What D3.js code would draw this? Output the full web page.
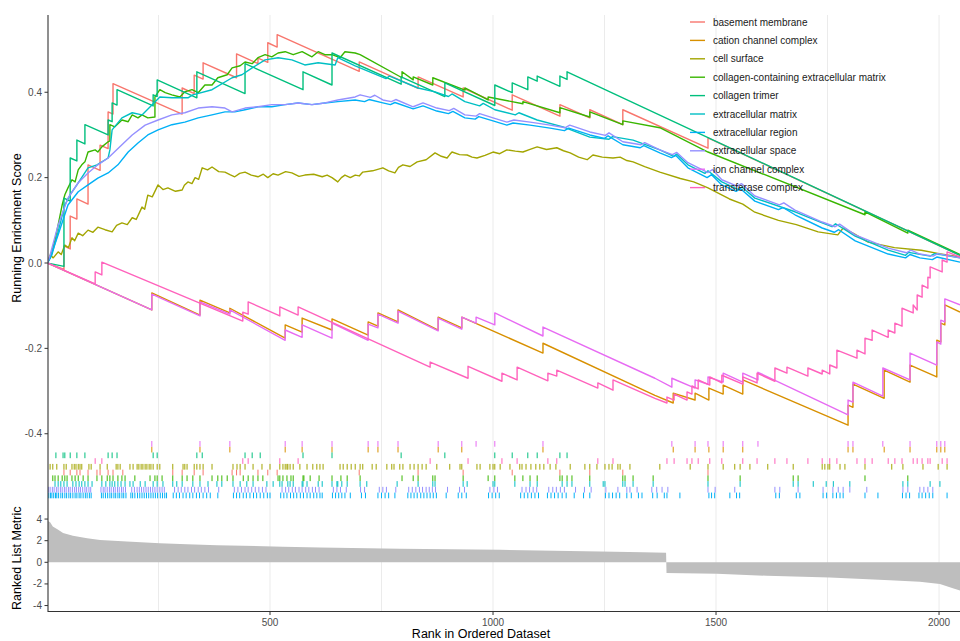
<!DOCTYPE html>
<html>
<head>
<meta charset="utf-8">
<script src="https://cdn.jsdelivr.net/npm/d3@7"></script>
<style>
  body { margin: 0; background: #fff; }
  text { font-family: "Liberation Sans", Arial, sans-serif; }
</style>
</head>
<body>
<svg id="chart" width="960" height="641"></svg>
<script>
// gene sets, in legend (factor) order
var setNames = ["basement membrane", "cation channel complex", "cell surface",
  "collagen-containing extracellular matrix", "collagen trimer", "extracellular matrix",
  "extracellular region", "extracellular space", "ion channel complex", "transferase complex"];
var setColors = ["#F8766D", "#D89000", "#A3A500", "#39B600", "#00BF7D", "#00BFC4",
  "#00B0F6", "#9590FF", "#E76BF3", "#FF62BC"];
// rug rows, top to bottom
var rugOrder = ["ion channel complex", "cation channel complex", "collagen trimer", "transferase complex",
  "cell surface", "basement membrane", "collagen-containing extracellular matrix",
  "extracellular matrix", "extracellular space", "extracellular region"];

// running enrichment score, [rank, ES]
var esBasement = [[1,0],[38,-0.015],[38,0.04],[52,0.033],[52,0.11],[67,0.103],[67,0.15],[92,0.138],[92,0.23],
  [119,0.217],[119,0.276],[137,0.268],[137,0.354],[148,0.349],[148,0.42],[303,0.349],[303,0.41],[330,0.397],
  [330,0.44],[350,0.431],[350,0.469],[425,0.434],[425,0.49],[473,0.467],[473,0.48],[495,0.47],[495,0.516],
  [516,0.506],[516,0.535],[700,0.449],[700,0.471],[832,0.409],[832,0.436],[933,0.389],[933,0.41],[1043,0.358],
  [1043,0.394],[1150,0.344],[1150,0.371],[1217,0.34],[1217,0.359],[1291,0.324],[1291,0.359],[1482,0.269],
  [1482,0.293],[2047,0.018]];
var esCation = [[1,0],[235,-0.11],[235,-0.07],[343,-0.122],[343,-0.087],[410,-0.117],[410,-0.106],[534,-0.176],
  [534,-0.145],[572,-0.162],[572,-0.129],[639,-0.157],[639,-0.131],[720,-0.169],[720,-0.138],[742,-0.148],
  [742,-0.117],[787,-0.138],[787,-0.11],[877,-0.157],[877,-0.127],[930,-0.152],[930,-0.127],[1112,-0.211],
  [1112,-0.188],[1363,-0.31],[1404,-0.328],[1404,-0.305],[1453,-0.321],[1453,-0.305],[1484,-0.321],[1484,-0.293],
  [1516,-0.307],[1516,-0.286],[1560,-0.307],[1560,-0.274],[1796,-0.38],[1796,-0.333],[1807,-0.338],[1807,-0.284],
  [1877,-0.317],[1877,-0.251],[1935,-0.279],[1935,-0.239],[1995,-0.267],[1995,-0.181],[2004,-0.185],[2004,-0.141],
  [2013,-0.145],[2013,-0.098],[2047,-0.115]];
var esCellSurface = [[1,0],[7,0.019],[14,0.012],[25,0.026],[32,0.02],[40,0.042],[48,0.036],[56,0.059],[62,0.052],
  [70,0.07],[80,0.064],[92,0.077],[103,0.072],[114,0.084],[130,0.078],[146,0.073],[156,0.088],[168,0.094],
  [180,0.09],[191,0.106],[200,0.102],[213,0.131],[219,0.126],[226,0.159],[236,0.155],[249,0.183],[260,0.172],
  [271,0.176],[288,0.168],[303,0.171],[308,0.182],[316,0.19],[325,0.186],[332,0.2],[340,0.196],[348,0.223],
  [360,0.218],[370,0.225],[385,0.214],[399,0.213],[410,0.207],[421,0.202],[432,0.21],[444,0.213],[458,0.206],
  [473,0.202],[485,0.208],[495,0.2],[507,0.209],[518,0.206],[535,0.214],[549,0.211],[565,0.203],[578,0.206],
  [598,0.208],[617,0.202],[628,0.206],[639,0.2],[652,0.19],[660,0.2],[668,0.206],[680,0.2],[691,0.206],[700,0.204],
  [708,0.213],[730,0.216],[753,0.223],[766,0.216],[780,0.211],[788,0.224],[798,0.23],[814,0.226],[830,0.237],
  [850,0.242],[870,0.258],[884,0.25],[897,0.246],[903,0.254],[908,0.26],[925,0.254],[942,0.253],[953,0.248],
  [964,0.246],[982,0.252],[1000,0.26],[1015,0.256],[1031,0.265],[1050,0.262],[1067,0.26],[1083,0.266],[1099,0.272],
  [1120,0.266],[1143,0.27],[1158,0.263],[1173,0.258],[1192,0.248],[1211,0.242],[1224,0.253],[1245,0.248],
  [1269,0.246],[1285,0.248],[1300,0.24],[1314,0.237],[1340,0.226],[1374,0.213],[1420,0.198],[1450,0.19],
  [1482,0.176],[1530,0.15],[1560,0.138],[1587,0.119],[1640,0.1],[1680,0.09],[1729,0.073],[1773,0.066],
  [1785,0.082],[1810,0.068],[1841,0.049],[1900,0.036],[1960,0.03],[2000,0.022],[2047,0.014]];
var esCollagenECM = [[1,0],[7,0.012],[11,0.026],[18,0.054],[25,0.089],[34,0.136],[40,0.16],[47,0.176],[56,0.195],
  [63,0.19],[70,0.218],[78,0.23],[85,0.237],[92,0.26],[108,0.265],[114,0.26],[123,0.272],[137,0.284],[141,0.286],
  [141,0.324],[152,0.319],[168,0.335],[182,0.331],[191,0.347],[204,0.34],[213,0.347],[226,0.34],[242,0.342],
  [242,0.389],[253,0.406],[265,0.399],[280,0.394],[298,0.389],[309,0.401],[325,0.406],[339,0.399],[354,0.417],
  [370,0.417],[383,0.434],[404,0.441],[415,0.457],[433,0.462],[444,0.471],[460,0.467],[473,0.481],[489,0.488],
  [504,0.483],[518,0.492],[534,0.495],[552,0.488],[572,0.495],[594,0.483],[608,0.495],[623,0.488],[639,0.488],
  [657,0.481],[668,0.495],[691,0.492],[702,0.488],[796,0.434],[796,0.448],[821,0.429],[821,0.436],[865,0.417],
  [865,0.434],[937,0.405],[937,0.41],[989,0.382],[989,0.389],[1067,0.373],[1067,0.378],[1150,0.352],[1150,0.364],
  [1217,0.342],[1217,0.354],[1291,0.324],[1291,0.333],[1374,0.317],[1482,0.26],[1834,0.113],[1834,0.12],
  [1930,0.07],[1930,0.077],[2047,0.02]];
var esCollagenTrimer = [[1,0],[38,-0.008],[38,0.152],[52,0.145],[52,0.246],[67,0.239],[67,0.288],[85,0.279],
  [85,0.324],[137,0.3],[137,0.335],[146,0.331],[146,0.375],[157,0.37],[157,0.406],[238,0.368],[238,0.394],
  [247,0.39],[247,0.429],[336,0.387],[336,0.448],[444,0.397],[444,0.467],[574,0.406],[574,0.448],[639,0.417],
  [639,0.492],[794,0.419],[794,0.436],[892,0.39],[892,0.422],[1004,0.369],[1004,0.417],[1043,0.399],[1043,0.422],
  [1078,0.406],[1078,0.436],[1099,0.426],[1099,0.438],[1150,0.414],[1150,0.438],[1166,0.43],[1166,0.448],
  [2047,0.018]];
var esECM = [[1,0],[11,0.019],[25,0.073],[40,0.136],[52,0.16],[67,0.183],[92,0.223],[112,0.23],[137,0.246],
  [141,0.265],[146,0.312],[168,0.34],[191,0.352],[213,0.347],[242,0.377],[253,0.389],[280,0.387],[316,0.387],
  [327,0.394],[370,0.406],[415,0.434],[437,0.441],[460,0.457],[489,0.476],[518,0.481],[549,0.476],[578,0.464],
  [608,0.469],[646,0.464],[652,0.481],[691,0.462],[760,0.432],[768,0.438],[832,0.41],[870,0.401],[900,0.39],
  [908,0.396],[937,0.378],[970,0.368],[978,0.374],[1004,0.359],[1050,0.347],[1058,0.352],[1099,0.335],
  [1157,0.319],[1217,0.295],[1260,0.29],[1268,0.296],[1314,0.288],[1374,0.265],[1405,0.25],[1412,0.255],
  [1437,0.23],[1475,0.21],[1482,0.216],[1513,0.19],[1550,0.172],[1558,0.178],[1587,0.152],[1677,0.12],
  [1738,0.094],[1760,0.085],[1768,0.092],[1812,0.063],[1886,0.03],[1925,0.018],[1932,0.025],[1980,0.016],
  [1990,0.022],[2047,0.012]];
var esRegion = [[1,0],[7,0.012],[25,0.066],[47,0.136],[70,0.167],[92,0.183],[114,0.199],[137,0.211],[159,0.23],
  [182,0.26],[204,0.281],[226,0.3],[249,0.312],[280,0.324],[309,0.33],[339,0.34],[370,0.347],[399,0.354],
  [421,0.354],[444,0.359],[473,0.366],[504,0.366],[534,0.371],[563,0.375],[594,0.371],[623,0.375],[652,0.378],
  [691,0.382],[712,0.378],[722,0.383],[753,0.375],[770,0.371],[780,0.376],[821,0.361],[843,0.368],[874,0.356],
  [900,0.35],[910,0.355],[937,0.34],[960,0.337],[968,0.343],[1000,0.333],[1031,0.323],[1045,0.328],[1083,0.323],
  [1128,0.316],[1160,0.31],[1170,0.316],[1217,0.3],[1250,0.292],[1258,0.298],[1291,0.277],[1330,0.27],
  [1338,0.275],[1374,0.258],[1400,0.247],[1410,0.252],[1437,0.223],[1480,0.2],[1490,0.207],[1513,0.183],
  [1545,0.168],[1555,0.174],[1587,0.145],[1640,0.125],[1650,0.13],[1677,0.113],[1738,0.082],[1765,0.072],
  [1775,0.078],[1812,0.052],[1886,0.021],[1925,0.012],[1935,0.02],[1957,0.012],[1985,0.008],[1995,0.014],
  [2047,0.002]];
var esSpace = [[1,0],[7,0.019],[25,0.089],[47,0.152],[70,0.188],[92,0.211],[114,0.23],[137,0.246],[168,0.277],
  [191,0.3],[220,0.323],[249,0.335],[280,0.347],[309,0.352],[339,0.363],[370,0.366],[399,0.363],[415,0.354],
  [444,0.363],[473,0.366],[504,0.371],[534,0.371],[563,0.375],[594,0.371],[623,0.375],[652,0.382],[691,0.389],
  [702,0.394],[725,0.388],[735,0.393],[753,0.382],[772,0.378],[782,0.383],[821,0.366],[843,0.375],[874,0.363],
  [902,0.357],[912,0.362],[937,0.347],[962,0.344],[970,0.35],[1000,0.34],[1031,0.33],[1047,0.335],[1083,0.33],
  [1128,0.323],[1162,0.317],[1172,0.323],[1217,0.307],[1252,0.299],[1260,0.305],[1291,0.284],[1332,0.277],
  [1340,0.282],[1374,0.265],[1402,0.254],[1412,0.259],[1437,0.235],[1482,0.212],[1492,0.219],[1513,0.195],
  [1547,0.18],[1557,0.186],[1587,0.157],[1642,0.136],[1652,0.141],[1677,0.124],[1738,0.096],[1767,0.085],
  [1777,0.091],[1812,0.066],[1886,0.035],[1927,0.024],[1937,0.03],[1957,0.021],[1987,0.016],[1997,0.022],
  [2047,0.012]];
var esIon = [[1,0],[235,-0.11],[235,-0.073],[343,-0.124],[343,-0.091],[410,-0.12],[410,-0.11],[534,-0.181],
  [534,-0.157],[572,-0.174],[572,-0.145],[639,-0.176],[639,-0.141],[720,-0.181],[720,-0.143],[742,-0.152],
  [742,-0.12],[787,-0.141],[787,-0.113],[877,-0.159],[877,-0.129],[930,-0.155],[930,-0.127],[962,-0.141],
  [962,-0.127],[1004,-0.145],[1004,-0.117],[1112,-0.171],[1112,-0.15],[1363,-0.27],[1401,-0.291],[1401,-0.27],
  [1453,-0.293],[1453,-0.274],[1482,-0.284],[1482,-0.267],[1516,-0.279],[1516,-0.258],[1560,-0.279],[1560,-0.258],
  [1594,-0.274],[1594,-0.256],[1796,-0.356],[1796,-0.321],[1807,-0.326],[1807,-0.279],[1874,-0.312],[1874,-0.246],
  [1935,-0.274],[1935,-0.211],[1995,-0.239],[1995,-0.185],[2004,-0.19],[2004,-0.134],[2013,-0.138],[2013,-0.084],
  [2047,-0.098]];
var esTransferase = [[1,0],[108,-0.049],[108,-0.021],[123,-0.028],[123,0.002],[439,-0.136],[439,-0.115],
  [451,-0.12],[451,-0.091],[522,-0.124],[522,-0.103],[563,-0.122],[563,-0.103],[859,-0.244],[859,-0.232],
  [944,-0.27],[944,-0.242],[1020,-0.277],[1020,-0.258],[1054,-0.274],[1054,-0.244],[1123,-0.276],[1123,-0.258],
  [1143,-0.265],[1143,-0.251],[1235,-0.293],[1235,-0.281],[1269,-0.298],[1269,-0.274],[1363,-0.317],[1390,-0.328],
  [1390,-0.314],[1406,-0.321],[1406,-0.307],[1435,-0.321],[1435,-0.302],[1446,-0.307],[1446,-0.288],[1460,-0.295],
  [1460,-0.274],[1486,-0.286],[1486,-0.267],[1513,-0.281],[1513,-0.263],[1560,-0.284],[1560,-0.267],[1592,-0.281],
  [1592,-0.258],[1632,-0.277],[1632,-0.246],[1659,-0.258],[1659,-0.244],[1706,-0.265],[1706,-0.246],[1738,-0.26],
  [1738,-0.251],[1755,-0.26],[1755,-0.239],[1771,-0.246],[1771,-0.204],[1816,-0.223],[1816,-0.204],[1834,-0.213],
  [1834,-0.176],[1850,-0.181],[1850,-0.157],[1886,-0.174],[1886,-0.157],[1901,-0.164],[1901,-0.141],[1917,-0.148],
  [1917,-0.106],[1942,-0.117],[1942,-0.098],[1951,-0.11],[1951,-0.075],[1962,-0.08],[1962,-0.052],[1975,-0.059],
  [1975,-0.033],[1980,-0.035],[1980,-0.009],[2007,-0.021],[2007,0.007],[2018,0.002],[2018,0.026],[2047,0.014]];

// hit positions (ranks) for the rug
var hitsBasement = [38,52,67,74,92,112,119,137,148,170,282,303,330,350,415,425,433,473,495,516,700,832,933,1043,1150,1217,1291,1482];
var hitsCation = [235,343,410,534,572,639,720,742,787,877,930,1112,1404,1453,1484,1516,1560,1796,1807,1877,1935,1995,2004,2013];
var hitsCellSurface = [7,13,22,38,43,56,61,65,70,74,78,94,99,119,135,155,159,164,186,193,202,206,211,215,220,224,229,
  233,238,247,253,282,305,309,314,330,336,343,350,370,417,426,433,444,462,482,500,522,529,534,538,540,545,552,567,
  583,596,605,612,619,657,664,673,682,691,702,708,729,738,762,773,778,791,798,814,823,832,841,850,874,903,926,930,
  964,971,993,1000,1004,1016,1038,1060,1065,1074,1085,1096,1105,1114,1128,1141,1173,1206,1217,1233,1251,1260,1267,
  1280,1285,1307,1374,1442,1482,1516,1542,1554,1576,1616,1673,1738,1744,1751,1755,1778,1789,1834,1894,1919,1964,
  1998,2018];
var hitsCollagenECM = [13,18,25,34,40,45,56,63,70,81,92,112,123,135,141,148,159,168,175,197,231,242,247,258,282,303,
  314,327,343,370,383,392,404,417,440,451,462,473,484,518,522,529,538,547,552,574,576,590,610,639,659,673,702,796,
  821,832,865,870,933,989,1004,1049,1067,1083,1099,1150,1155,1166,1177,1217,1291,1296,1314,1359,1482,1554,1673,
  1684,1834,1930];
var hitsCollagenTrimer = [20,36,40,52,67,85,137,146,157,238,247,336,348,444,460,478,574,639,794,892,1004,1043,1078,1099,1150,1166];
var hitsECM = [18,25,31,38,45,58,65,72,78,85,92,101,123,132,141,146,152,159,166,175,186,193,209,220,238,247,260,282,
  291,303,327,343,361,381,392,417,433,448,462,493,507,522,527,540,545,552,572,574,583,608,617,639,650,652,661,673,
  702,717,785,832,865,870,933,942,1000,1004,1049,1083,1099,1155,1166,1177,1217,1247,1251,1291,1296,1314,1359,1482,
  1554,1673,1684,1718,1747,1763,1800,1919,1930,1980,2002];
var hitsRegion = [4,8,11,15,19,22,26,31,35,40,44,49,53,58,63,67,72,76,81,86,90,95,99,122,126,131,136,141,145,150,
  154,159,163,168,172,177,188,192,197,203,208,213,218,223,228,233,238,243,248,254,259,264,268,283,290,297,305,312,
  320,327,335,342,350,358,366,383,418,425,432,440,447,455,463,470,478,486,494,500,524,531,538,546,553,560,568,575,
  583,590,598,605,612,617,640,647,654,661,668,680,705,714,742,750,758,766,780,809,816,823,830,838,845,852,859,866,
  873,895,922,930,940,990,998,1006,1014,1062,1070,1078,1086,1094,1102,1122,1130,1138,1146,1155,1164,1182,1203,1217,
  1252,1260,1268,1276,1284,1300,1310,1326,1334,1358,1368,1384,1390,1419,1484,1490,1497,1531,1546,1553,1634,1642,
  1680,1688,1740,1748,1762,1770,1778,1785,1834,1863,1918,1926,1934,1955,1962,1970,1978,1986,2018];
var hitsSpace = [3,7,12,16,21,25,30,34,39,43,48,52,57,62,66,71,75,80,85,89,94,98,121,126,130,135,140,144,149,153,
  158,162,167,171,176,190,196,202,207,212,217,222,227,232,237,242,247,253,258,263,286,294,301,309,316,324,331,339,
  346,354,362,385,420,428,436,444,451,459,467,475,483,491,527,535,542,550,557,565,572,580,587,595,602,610,642,650,
  658,671,703,712,745,753,761,782,811,819,827,835,842,850,857,864,871,898,925,936,993,1002,1010,1065,1074,1082,1090,
  1098,1125,1134,1142,1151,1160,1185,1205,1220,1253,1280,1300,1307,1323,1356,1367,1379,1392,1482,1498,1542,1632,
  1643,1684,1740,1762,1774,1785,1800,1838,1919,1930,1957,1966,1975,1986];
var hitsIon = [235,343,410,534,572,639,720,742,787,877,930,962,1004,1112,1401,1453,1482,1516,1560,1594,1796,1807,1874,1935,1995,2004,2013];
var hitsTransferase = [108,123,439,451,522,563,859,944,1020,1054,1123,1143,1235,1269,1390,1406,1435,1446,1460,1486,
  1513,1560,1592,1632,1659,1706,1738,1755,1771,1816,1834,1850,1886,1901,1917,1942,1951,1962,1975,1980,2007,2018];

// ranked list metric, [rank] and [value] read along the grey profile
var metricRank = [1,7,13,25,36,58,90,119,179,253,314,381,529,612,791,1016,1240,1336,1388,1389,1502,1614,1755,1890,1957,2002,2031,2047];
var metricValue = [3.85,3.7,3.3,3.0,2.72,2.45,2.23,2.07,1.92,1.77,1.67,1.58,1.45,1.36,1.25,1.15,1.0,0.92,0.88,-1.0,-1.05,-1.25,-1.4,-1.65,-1.8,-2.0,-2.4,-2.6];

// axis ticks
var rankTicks = [500, 1000, 1500, 2000];
var gridRanks = [250, 500, 750, 1000, 1250, 1500, 1750, 2000];
var esTicks = [-0.4, -0.2, 0, 0.2, 0.4];
var metricTicks = [-4, -2, 0, 2, 4];

var esList = [esBasement, esCation, esCellSurface, esCollagenECM, esCollagenTrimer, esECM, esRegion, esSpace, esIon, esTransferase];
var hitList = [hitsBasement, hitsCation, hitsCellSurface, hitsCollagenECM, hitsCollagenTrimer, hitsECM, hitsRegion, hitsSpace, hitsIon, hitsTransferase];

var sets = setNames.map(function(n, i) {
	return {name: n, color: setColors[i], es: esList[i], hits: hitList[i]};
});

var svg = d3.select("#chart");

var left = 48, right = 960;
var topY = 15, esBottom = 441, rugBottom = 498.3, metTop = 505, metBottom = 611.5;

var x = d3.scaleLinear().domain([0, 2047]).range([47, 960]);
var yES = d3.scaleLinear().domain([-0.417, 0.581]).range([esBottom, topY]);
var yMet = d3.scaleLinear().domain([-4.55, 5.3]).range([metBottom, metTop]);
var yRug = d3.scaleBand().domain(rugOrder).range([esBottom, rugBottom]).padding(0);

svg.append("defs").append("clipPath").attr("id", "plotclip")
	.append("rect").attr("x", left).attr("y", 0).attr("width", right - left).attr("height", 641);

// vertical grid
svg.append("g").selectAll("line")
	.data(gridRanks)
	.join("line")
	.attr("x1", function(d) { return x(d); })
	.attr("x2", function(d) { return x(d); })
	.attr("y1", topY)
	.attr("y2", metBottom)
	.attr("stroke", "#EBEBEB")
	.attr("stroke-width", 1);

var plotG = svg.append("g").attr("clip-path", "url(#plotclip)");

// ranked list metric
var metric = metricRank.map(function(r, i) { return [r, metricValue[i]]; });
plotG.append("path")
	.datum(metric)
	.attr("fill", "#BEBEBE")
	.attr("d", d3.area()
		.x(function(d) { return x(d[0]); })
		.y0(yMet(0))
		.y1(function(d) { return yMet(d[1]); }));

// rug of hits
var rugG = plotG.append("g");
sets.forEach(function(s) {
	rugG.append("g").selectAll("line")
		.data(s.hits)
		.join("line")
		.attr("x1", function(d) { return x(d); })
		.attr("x2", function(d) { return x(d); })
		.attr("y1", yRug(s.name))
		.attr("y2", yRug(s.name) + yRug.bandwidth())
		.attr("stroke", s.color)
		.attr("stroke-width", 1);
});

// running ES curves
var line = d3.line()
	.x(function(d) { return x(d[0]); })
	.y(function(d) { return yES(d[1]); });

plotG.append("g").selectAll("path")
	.data(sets)
	.join("path")
	.attr("fill", "none")
	.attr("stroke", function(d) { return d.color; })
	.attr("stroke-width", 1.4)
	.attr("stroke-linejoin", "round")
	.attr("d", function(d) { return line(d.es); });

// axes
var axisCol = "#333333", labCol = "#4D4D4D";
svg.append("line")
	.attr("x1", left).attr("x2", left).attr("y1", topY).attr("y2", metBottom + 0.5)
	.attr("stroke", axisCol).attr("stroke-width", 1.1);
svg.append("line")
	.attr("x1", left).attr("x2", right).attr("y1", metBottom).attr("y2", metBottom)
	.attr("stroke", axisCol).attr("stroke-width", 1.1);

function yAxis(ticks, scale, fmt) {
	var g = svg.append("g");
	g.selectAll("line").data(ticks).join("line")
		.attr("x1", left - 3.5).attr("x2", left)
		.attr("y1", function(d) { return scale(d); })
		.attr("y2", function(d) { return scale(d); })
		.attr("stroke", axisCol);
	g.selectAll("text").data(ticks).join("text")
		.attr("x", left - 6)
		.attr("y", function(d) { return scale(d); })
		.attr("dy", "0.35em")
		.attr("text-anchor", "end")
		.attr("font-size", 10)
		.attr("fill", labCol)
		.text(fmt);
}
yAxis(esTicks, yES, function(d) { return d.toFixed(1); });
yAxis(metricTicks, yMet, function(d) { return String(d); });

var xg = svg.append("g");
xg.selectAll("line").data(rankTicks).join("line")
	.attr("x1", function(d) { return x(d); })
	.attr("x2", function(d) { return x(d); })
	.attr("y1", metBottom).attr("y2", metBottom + 3.5)
	.attr("stroke", axisCol);
xg.selectAll("text").data(rankTicks).join("text")
	.attr("x", function(d) { return x(d); })
	.attr("y", metBottom + 14)
	.attr("text-anchor", "middle")
	.attr("font-size", 10)
	.attr("fill", labCol)
	.text(function(d) { return d; });

// axis titles
svg.append("text")
	.attr("transform", "translate(21," + ((topY + esBottom) / 2) + ")rotate(-90)")
	.attr("text-anchor", "middle")
	.attr("font-size", 12.5)
	.attr("fill", "#000")
	.text("Running Enrichment Score");
svg.append("text")
	.attr("transform", "translate(21," + ((metTop + metBottom) / 2) + ")rotate(-90)")
	.attr("text-anchor", "middle")
	.attr("font-size", 12.5)
	.attr("fill", "#000")
	.text("Ranked List Metric");
svg.append("text")
	.attr("x", 481)
	.attr("y", 638)
	.attr("text-anchor", "middle")
	.attr("font-size", 12.5)
	.attr("fill", "#000")
	.text("Rank in Ordered Dataset");

// legend
var legG = svg.append("g").attr("transform", "translate(688,22)");
var leg = legG.selectAll("g").data(sets).join("g")
	.attr("transform", function(d, i) { return "translate(0," + (i * 18.4) + ")"; });
leg.append("line")
	.attr("x1", 2).attr("x2", 17)
	.attr("stroke", function(d) { return d.color; })
	.attr("stroke-width", 1.4);
leg.append("text")
	.attr("x", 25)
	.attr("dy", "0.35em")
	.attr("font-size", 10)
	.attr("fill", "#1A1A1A")
	.text(function(d) { return d.name; });
</script>
</body>
</html>
